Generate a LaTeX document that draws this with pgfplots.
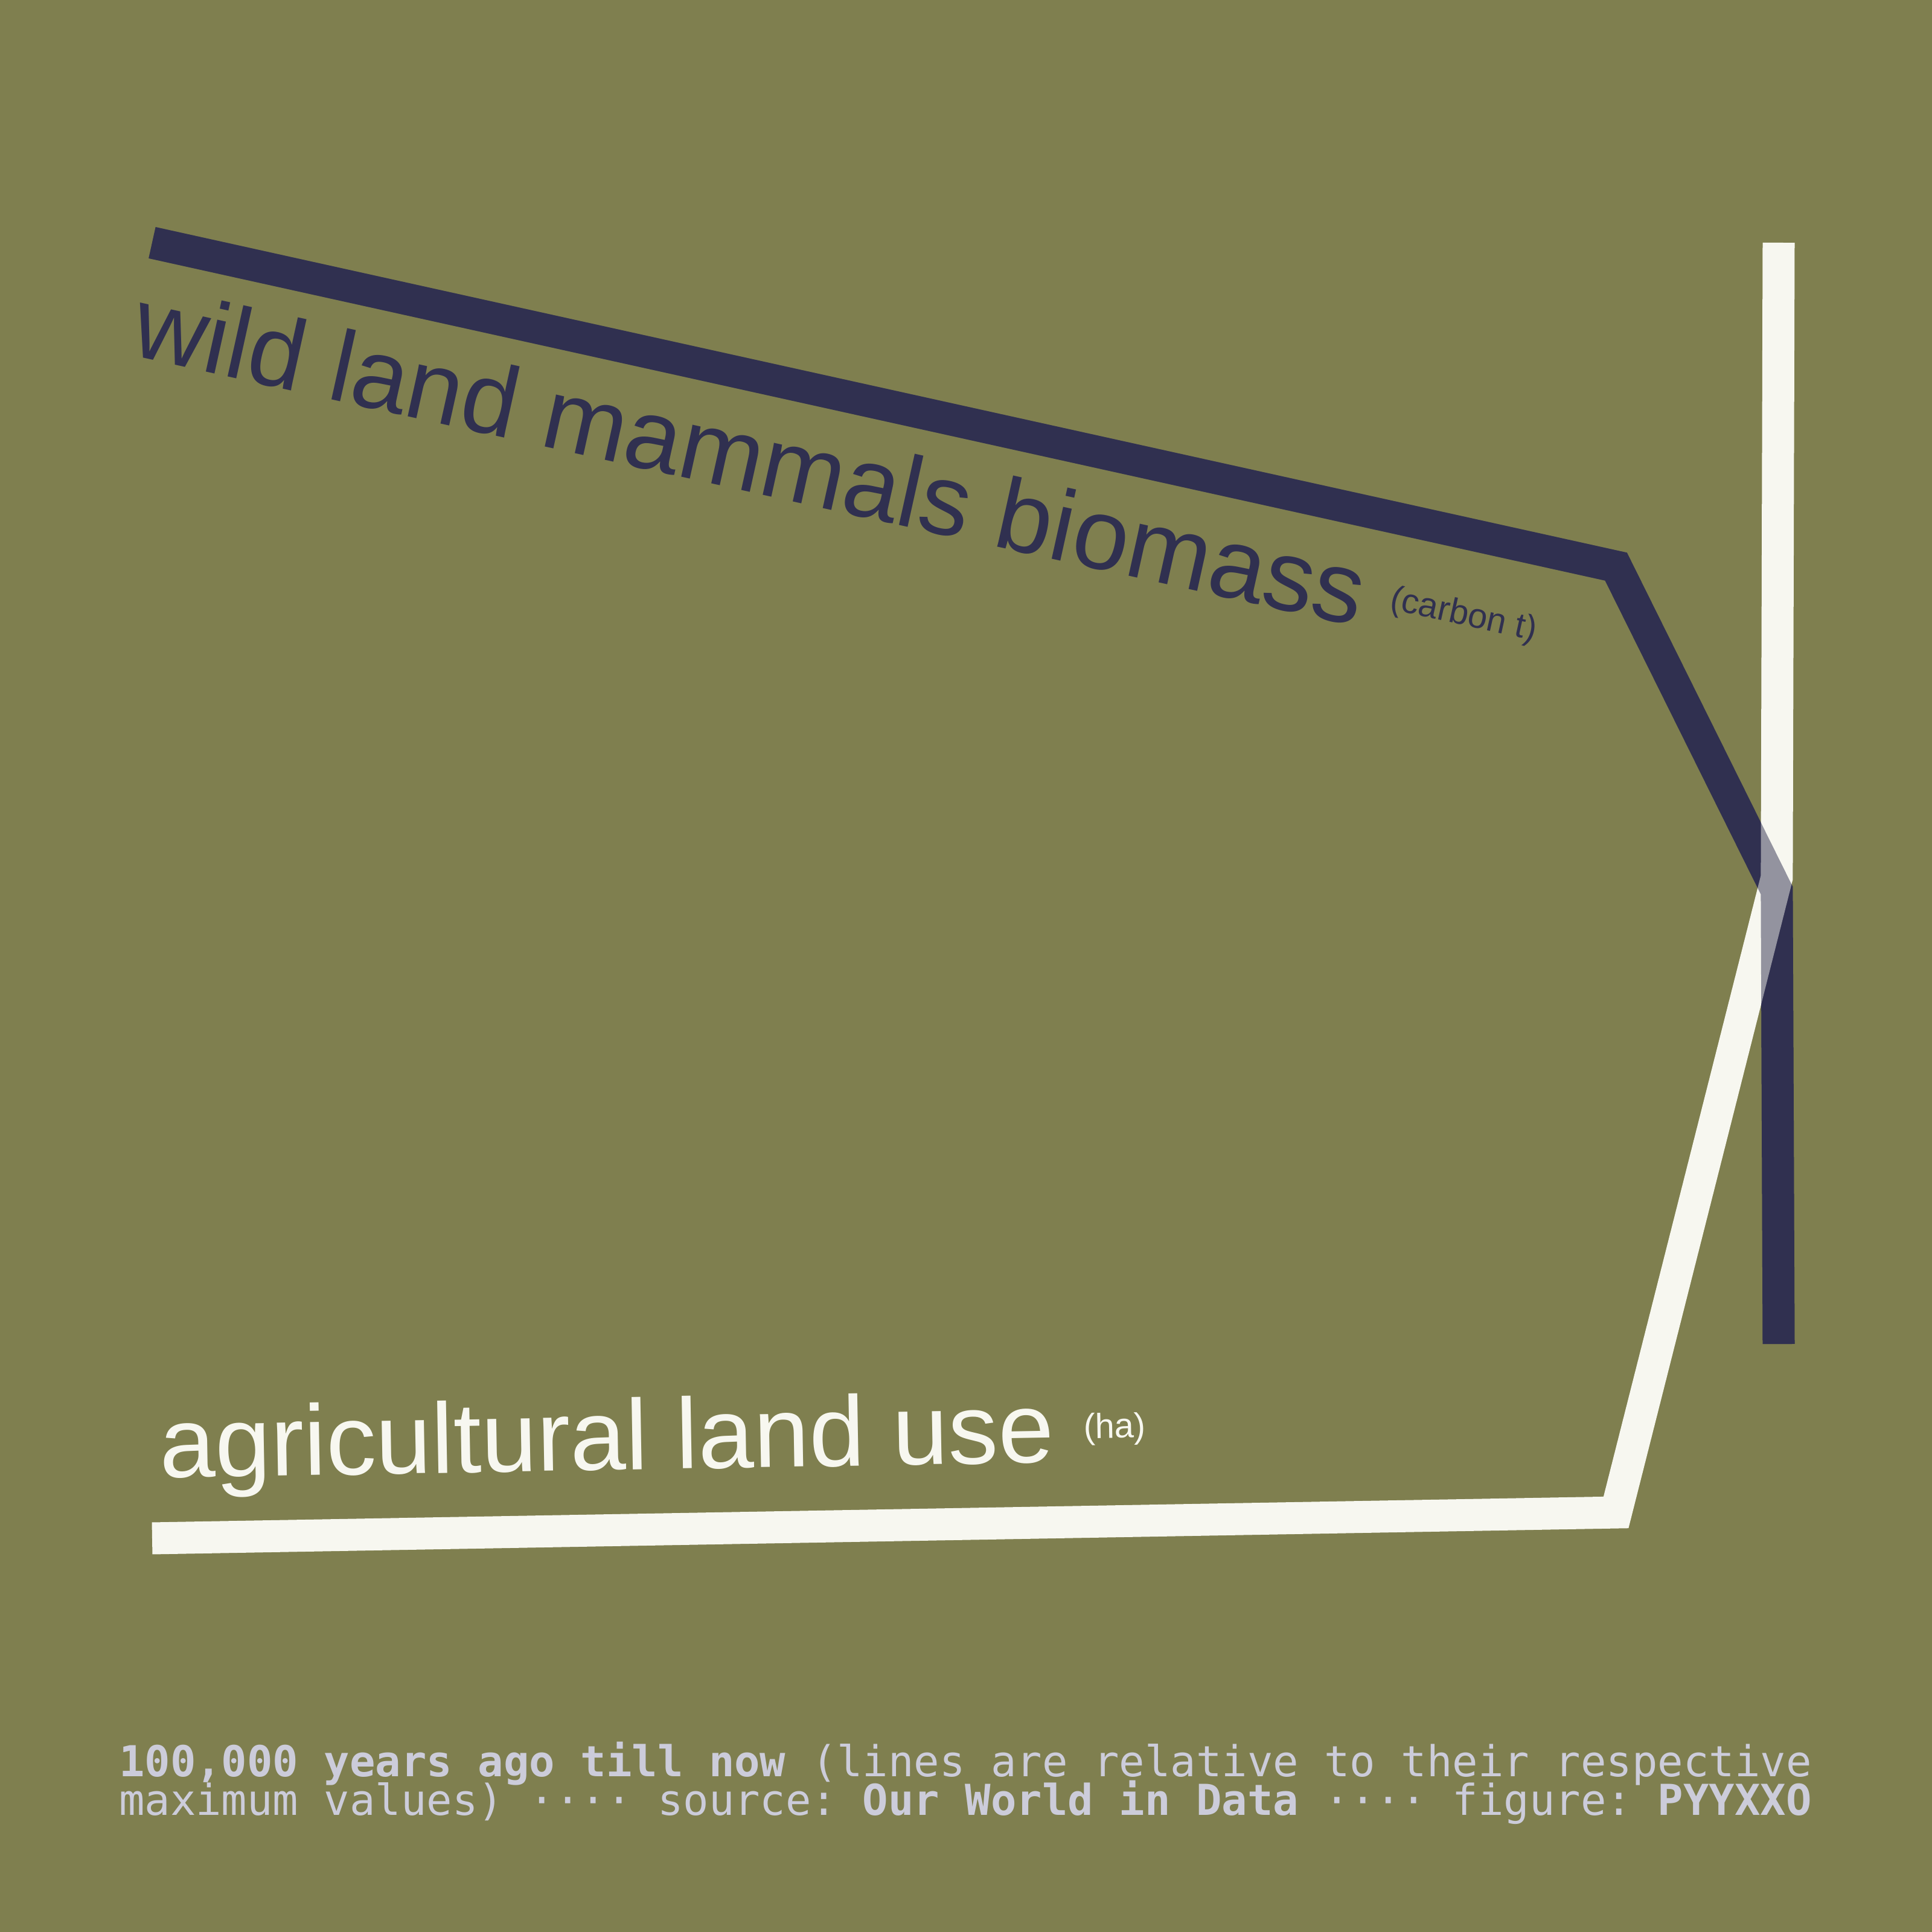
\documentclass[border=0pt]{standalone}
\usepackage{pgfplots}
\pgfplotsset{compat=1.18}
\usepackage{pgfplotstable}
\usepackage{fontspec}
\setmainfont{Liberation Sans}
\newfontfamily\monof{DejaVu Sans Mono}
\definecolor{bg}{RGB}{127,127,79}
\definecolor{navy}{RGB}{48,48,80}
\definecolor{cream}{RGB}{247,247,240}
\definecolor{foot}{RGB}{204,204,218}

\pgfplotstableread{
x y
-100000 1
-10000 0.75
-115 0.5
0 0.15
}\wild
\pgfplotstableread{
x y
-100000 0
-10000 0.02
-115 0.51
0 1
}\agri

\begin{document}
\frenchspacing
\begin{tikzpicture}
\useasboundingbox (0,0) rectangle (576pt,576pt);
\fill[bg] (0,0) rectangle (576pt,576pt);
\begin{axis}[at={(45.36pt,117.36pt)}, anchor=south west, scale only axis,
  width=484.92pt, height=386.28pt, xmin=-100000, xmax=0, ymin=0, ymax=1,
  hide axis, clip=false]
\addplot[navy, line width=9.54pt, line join=miter, line cap=butt, mark=none] table {\wild};
\addplot[cream, line width=9.54pt, line join=miter, line cap=butt, mark=none] table {\agri};
\addplot[navy, opacity=0.5, line width=9.54pt, line join=miter, line cap=butt, mark=none] table {\wild};
\end{axis}
\begin{scope}[x=0.18pt, y=-0.18pt, yshift=576pt]
\node[anchor=base west, inner sep=0, rotate=-12.48, text=navy, font=\fontsize{30}{36}\selectfont] at (212,587) {wild land mammals biomass};
\node[anchor=base west, inner sep=0, rotate=-12.48, text=navy, font=\fontsize{10.4}{12}\selectfont] at (2299,1008) {(carbon t)};
\node[anchor=base west, inner sep=0, rotate=1.0, text=cream, font=\fontsize{29.8}{36}\selectfont] at (264,2448) {agricultural land use};
\node[anchor=base west, inner sep=0, rotate=1.0, text=cream, font=\fontsize{10.4}{12}\selectfont] at (1794,2383) {(ha)};
\node[anchor=base west, inner sep=0, text=foot, font=\monof\fontsize{12.7}{14}\selectfont\frenchspacing] at (196,2943) {\textbf{100,000 years ago till now} (lines are relative to their respective};
\node[anchor=base west, inner sep=0, text=foot, font=\monof\fontsize{12.7}{14}\selectfont\frenchspacing] at (196,3007) {maximum values) ···· source: \textbf{Our World in Data} ···· figure: \textbf{PYYXXO}};
\end{scope}
\end{tikzpicture}
\end{document}
